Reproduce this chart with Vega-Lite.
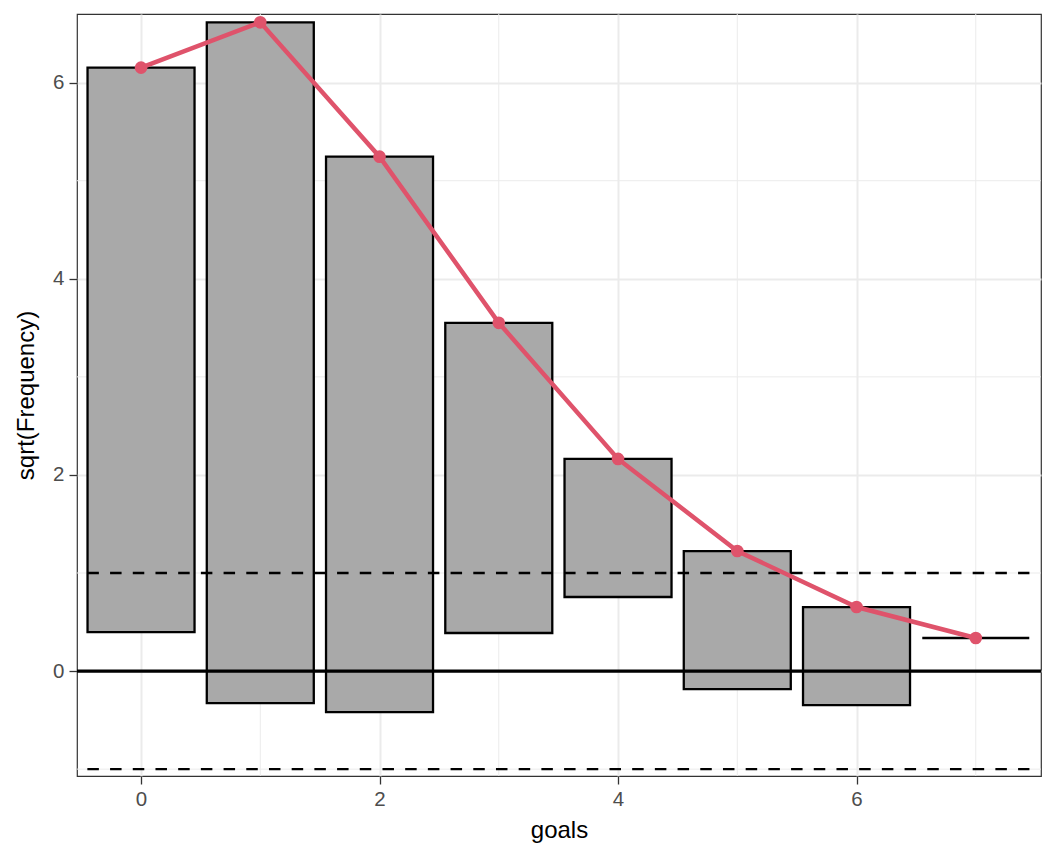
{
  "$schema": "https://vega.github.io/schema/vega-lite/v6.json",
  "autosize": {"type": "none"},
  "width": 964,
  "height": 762,
  "padding": {"left": 77, "top": 14, "right": 15, "bottom": 88},
  "background": "white",
  "config": {
    "font": "Liberation Sans",
    "view": {"stroke": "#333333", "strokeWidth": 1.2},
    "axis": {
      "domain": false,
      "labelColor": "#4D4D4D",
      "labelFontSize": 20.5,
      "tickColor": "#333333",
      "tickSize": 8,
      "tickWidth": 1.3,
      "labelPadding": 5,
      "titleFontSize": 24,
      "titleFontWeight": "normal",
      "titleColor": "black",
      "gridColor": "#EBEBEB",
      "gridWidth": 2
    }
  },
  "datasets": {
    "bars": [
      {"goals": 0, "ymin": 0.398, "ymax": 6.153},
      {"goals": 1, "ymin": -0.327, "ymax": 6.615},
      {"goals": 2, "ymin": -0.418, "ymax": 5.245},
      {"goals": 3, "ymin": 0.388, "ymax": 3.551},
      {"goals": 4, "ymin": 0.755, "ymax": 2.163},
      {"goals": 5, "ymin": -0.184, "ymax": 1.224},
      {"goals": 6, "ymin": -0.347, "ymax": 0.653},
      {"goals": 7, "ymin": 0.337, "ymax": 0.337}
    ],
    "minorx": [{"v": 1}, {"v": 3}, {"v": 5}, {"v": 7}],
    "minory": [{"v": -1}, {"v": 1}, {"v": 3}, {"v": 5}],
    "dashed": [{"y": -1, "from": -0.45, "to": 7.45}, {"y": 1, "from": -0.45, "to": 7.45}]
  },
  "layer": [
    {
      "data": {"name": "minorx"},
      "mark": {"type": "rule", "color": "#EBEBEB", "strokeWidth": 1},
      "encoding": {"x": {"field": "v", "type": "quantitative"}}
    },
    {
      "data": {"name": "minory"},
      "mark": {"type": "rule", "color": "#EBEBEB", "strokeWidth": 1},
      "encoding": {"y": {"field": "v", "type": "quantitative"}}
    },
    {
      "data": {"name": "bars"},
      "mark": {"type": "bar", "fill": "#A9A9A9", "stroke": "black", "strokeWidth": 2.3, "width": 107},
      "encoding": {
        "x": {
          "field": "goals", "type": "quantitative",
          "scale": {"domain": [-0.537, 7.547], "nice": false, "zero": false, "padding": 0},
          "axis": {"values": [0, 2, 4, 6], "format": "d", "title": "goals", "titlePadding": 9}
        },
        "y": {
          "field": "ymin", "type": "quantitative",
          "scale": {"domain": [-1.07, 6.70], "nice": false, "zero": false, "padding": 0},
          "axis": {"values": [0, 2, 4, 6], "format": "d", "title": "sqrt(Frequency)", "titlePadding": 14}
        },
        "y2": {"field": "ymax"}
      }
    },
    {
      "data": {"name": "dashed"},
      "mark": {"type": "rule", "color": "black", "strokeWidth": 2.3, "strokeDash": [11.5, 11.2]},
      "encoding": {
        "y": {"field": "y", "type": "quantitative"},
        "x": {"field": "from", "type": "quantitative"},
        "x2": {"field": "to"}
      }
    },
    {
      "data": {"values": [{"y": 0}]},
      "mark": {"type": "rule", "color": "black", "strokeWidth": 3.3},
      "encoding": {"y": {"field": "y", "type": "quantitative"}}
    },
    {
      "data": {"name": "bars"},
      "mark": {"type": "line", "color": "#DF536B", "strokeWidth": 4.5},
      "encoding": {
        "x": {"field": "goals", "type": "quantitative"},
        "y": {"field": "ymax", "type": "quantitative"}
      }
    },
    {
      "data": {"name": "bars"},
      "mark": {"type": "point", "filled": true, "color": "#DF536B", "opacity": 1, "size": 160},
      "encoding": {
        "x": {"field": "goals", "type": "quantitative"},
        "y": {"field": "ymax", "type": "quantitative"}
      }
    }
  ]
}
